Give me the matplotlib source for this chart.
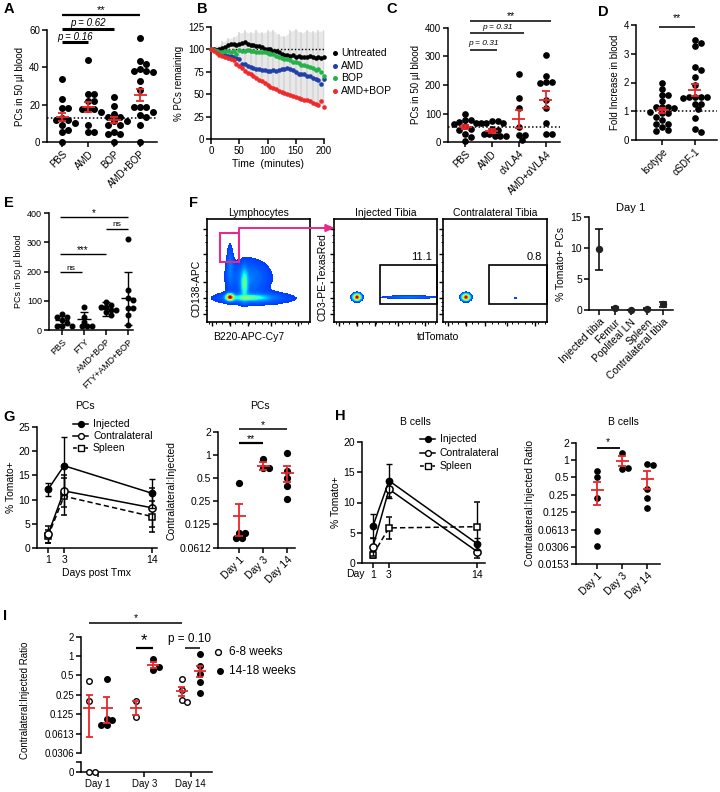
import numpy as np
import matplotlib
matplotlib.use('Agg')
import matplotlib.pyplot as plt
from matplotlib.lines import Line2D
from matplotlib.patches import Rectangle, Polygon
from matplotlib.transforms import Affine2D, blended_transform_factory
from matplotlib.colors import ListedColormap

plt.rcParams['font.family'] = ['Liberation Sans', 'DejaVu Sans']
plt.rcParams['font.size'] = 7
plt.rcParams['axes.linewidth'] = 1.1

# ---------------- DATA ----------------
# A
a_groups = ['PBS', 'AMD', 'BOP', 'AMD+BOP']
a_pbs = [34, 23, 18, 18, 13, 12, 12, 10, 9, 6.5, 5.5, 0]
a_amd = [44, 25.5, 25.5, 22, 22, 17.7, 17.7, 17.7, 15.9, 9.2, 5.3, 5.3]
a_bop = [24, 19.5, 15, 13.3, 13.3, 11.5, 11.5, 9.2, 9.2, 5.3, 4.4, 4.4, 0]
a_ambop = [55.8, 43.4, 42, 39, 38, 38, 37.5, 32.6, 28, 18.6, 18.6, 18.6, 16, 14.5, 13.3, 9.2, 0]
a_mean = [13.3, 18.6, 11.9, 25.1]
a_sem = [2.0, 2.6, 1.7, 3.4]
a_baseline = 13.1

# B
b_time = list(range(0, 201, 5))
b_untreated = [100, 100, 99, 101, 102, 103, 105, 106, 106, 105, 106, 107, 108, 106, 105, 105, 104, 104, 103, 101,
               100, 100, 98, 98, 97, 95, 94, 94, 93, 94, 92, 93, 92, 91, 92, 93, 91, 90, 91, 90, 91]
b_amd = [100, 99, 98, 96, 95, 94, 93, 93, 91, 90, 89, 84, 84, 82, 80, 79, 78, 78, 77, 77,
         76, 76, 77, 76, 77, 78, 78, 79, 78, 77, 75, 73, 72, 72, 70, 70, 68, 67, 66, 61, 67]
b_bop = [100, 99, 98, 97, 97, 98, 98, 97, 98, 95, 99, 98, 98, 99, 98, 98, 97, 97, 97, 97,
         96, 95, 95, 93, 91, 90, 89, 89, 88, 86, 86, 85, 83, 83, 81, 80, 79, 77, 78, 75, 70]
b_ambop = [100, 98, 96, 94, 93, 92, 90, 89, 88, 84, 81, 79, 76, 74, 72, 70, 68, 66, 65, 62,
           60, 58, 57, 56, 54, 53, 51, 50, 49, 48, 47, 46, 45, 44, 43, 42, 40, 39, 38, 42, 36]
b_err_time = list(range(0, 201, 10))
b_err_hi = [100, 103, 108, 112, 113, 118, 120, 118, 120, 118, 120, 121, 116, 114, 120, 122, 118, 121, 119, 120, 121]
b_err_lo = [100, 95, 91, 88, 85, 80, 76, 72, 68, 65, 62, 59, 56, 53, 50, 48, 46, 44, 42, 40, 38]
b_labels = ['Untreated', 'AMD', 'BOP', 'AMD+BOP']

# C
c_groups = ['PBS', 'AMD', 'αVLA4', 'AMD+αVLA4']
c_pbs = [100, 76, 76, 70, 65, 62, 55, 47, 41, 29, 18, 3.5]
c_amd = [74, 74, 67, 67, 67, 47, 41, 29, 29, 20, 20, 20]
c_vla = [239, 153, 121, 53, 23.5, 23.5, 8]
c_amdvla = [306, 232, 212, 212, 206, 147, 118, 67, 29, 29]
c_mean = [53, 39, 82, 149]
c_sem = [6, 7, 32, 30]
c_baseline = 52

# D
d_groups = ['Isotype', 'αSDF-1']
d_iso = [1.97, 1.76, 1.57, 1.57, 1.37, 1.14, 1.14, 1.14, 1.1, 0.99, 0.93, 0.93, 0.79, 0.7, 0.56, 0.56, 0.46, 0.35, 0.33]
d_sdf = [3.48, 3.39, 3.27, 2.55, 2.43, 2.2, 1.9, 1.51, 1.51, 1.51, 1.51, 1.45, 1.25, 1.25, 1.07, 0.75, 0.4, 0.27]
d_mean = [1.04, 1.74]
d_sem = [0.09, 0.22]

# E
e_groups = ['PBS', 'FTY', 'AMD+BOP', 'FTY+AMD+BOP']
e_pbs = [55, 46, 46, 34, 25, 14, 14, 14]
e_fty = [80, 46, 29, 14, 14, 14]
e_ambop = [97, 86, 80, 80, 69, 69, 60, 51]
e_ftyambop = [311, 137, 109, 103, 74, 74, 51, 17]
e_mean = [34, 37, 72, 108]
e_sd = [15, 26, 23, 90]

# F flow gates (cluster centre x, y, spread x, y, weight) in axes fractions
f_lym_blobs = [(0.22, 0.24, 0.022, 0.018, 1.0), (0.40, 0.235, 0.10, 0.016, 0.28), (0.36, 0.37, 0.02, 0.08, 0.26),
               (0.40, 0.43, 0.13, 0.11, 0.05), (0.45, 0.23, 0.23, 0.04, 0.05), (0.22, 0.55, 0.022, 0.13, 0.04)]
f_inj_blobs = [(0.22, 0.24, 0.022, 0.018, 1.0), (0.72, 0.24, 0.16, 0.01, 0.05)]
f_con_blobs = [(0.22, 0.24, 0.022, 0.018, 1.0), (0.70, 0.23, 0.015, 0.008, 0.02)]
f_inj_pct = '11.1'
f_con_pct = '0.8'
f_tissues = ['Injected tibia', 'Femur', 'Popliteal LN', 'Spleen', 'Contralateral tibia']
f_mean = [9.8, 0.4, 0.0, 0.2, 0.9]
f_err = [3.3, 0.15, 0.05, 0.1, 0.35]

# G
g_days = [1, 3, 14]
g_inj = [12.1, 17.0, 11.3]
g_inj_err = [1.3, 6.0, 3.0]
g_con = [2.8, 11.8, 8.3]
g_con_err = [1.7, 3.3, 4.0]
g_spl = [2.4, 10.7, 6.5]
g_spl_err = [1.4, 3.8, 3.2]
g_ratio_days = ['Day 1', 'Day 3', 'Day 14']
g_ratio = [[0.43, 0.096, 0.096, 0.083, 0.083], [0.9, 0.67, 0.67], [1.07, 0.62, 0.5, 0.4, 0.27]]
g_ratio_mean = [0.158, 0.72, 0.59]
g_ratio_lo = [0.088, 0.64, 0.45]
g_ratio_hi = [0.228, 0.82, 0.73]

# H
h_inj = [6.1, 13.6, 3.2]
h_inj_err = [2.0, 2.8, 1.0]
h_con = [2.7, 12.2, 1.9]
h_con_err = [1.5, 1.3, 1.0]
h_spl = [1.4, 5.8, 6.0]
h_spl_err = [0.6, 1.8, 4.1]
h_ratio = [[0.66, 0.51, 0.22, 0.057, 0.031], [1.34, 0.7, 0.72], [0.87, 0.84, 0.31, 0.22, 0.146]]
h_ratio_mean = [0.30, 0.98, 0.47]
h_ratio_lo = [0.166, 0.80, 0.31]
h_ratio_hi = [0.41, 1.17, 0.64]

# I
i_open = [[0.41, 0.2, 0, 0], [0.2, 0.113], [0.44, 0.3, 0.21, 0.19]]
i_filled = [[0.435, 0.105, 0.1, 0.085, 0.085], [0.9, 0.62, 0.68], [1.07, 0.71, 0.53, 0.4, 0.27]]
i_open_mean = [0.155, 0.153, 0.285]
i_open_lo = [0.055, 0.12, 0.235]
i_open_hi = [0.25, 0.2, 0.335]
i_fill_mean = [0.157, 0.73, 0.59]
i_fill_lo = [0.09, 0.65, 0.47]
i_fill_hi = [0.23, 0.82, 0.71]
i_legend = ['6-8 weeks', '14-18 weeks']

log_ticks_g = [2, 1, 0.5, 0.25, 0.125, 0.0612]
log_ticks_h = [2, 1, 0.5, 0.25, 0.125, 0.0613, 0.0306, 0.0153]
log_ticks_i = [2, 1, 0.5, 0.25, 0.125, 0.0613, 0.0306]

# ---------------- FIGURE ----------------
W, H = 720, 792
fig = plt.figure(figsize=(W / 100, H / 100), dpi=100)
PX = Affine2D().scale(1.0 / W, -1.0 / H).translate(0, 1) + fig.transFigure
RED = '#e8262b'


def add_ax(l, t, r, b):
    return fig.add_axes([l / W, 1 - b / H, (r - l) / W, (b - t) / H])


def ftext(x, y, s, **kw):
    kw.setdefault('transform', PX)
    return fig.text(x, y, s, **kw)


def prism(ax, fs=7):
    ax.spines['top'].set_visible(False)
    ax.spines['right'].set_visible(False)
    for s in ['left', 'bottom']:
        ax.spines[s].set_linewidth(1.1)
    ax.tick_params(axis='both', direction='out', length=3.5, width=1.1, labelsize=fs, pad=1.5)
    ax.set_facecolor('none')


def ppu_x(ax):
    yref = ax.get_ylim()[1]
    return ax.transData.transform((1, yref))[0] - ax.transData.transform((0, yref))[0]


def swarm(ax, xc, vals, d_px):
    ppu = ppu_x(ax)
    placed, xs = [], []
    for v in vals:
        py = ax.transData.transform((xc, v))[1]
        ox = 0
        for k in [0, 0.5, -0.5, 1, -1, 1.5, -1.5, 2, -2, 2.5, -2.5, 3, -3, 3.5, -3.5]:
            ox = k * d_px
            if all((ox - px) ** 2 + (py - qy) ** 2 >= (0.92 * d_px) ** 2 for px, qy in placed):
                break
        placed.append((ox, py))
        xs.append(xc + ox / ppu)
    return xs


def dots(ax, xc, vals, d_px, ms, mfc='k'):
    xs = swarm(ax, xc, vals, d_px)
    ax.plot(xs, vals, 'o', ms=ms, mfc=mfc, mec='k', mew=1.0, ls='none', clip_on=False, zorder=3)


def mean_bars(ax, xs, means, lo, hi, wm_px, wc_px, color=RED, lw=1.3):
    ppu = ppu_x(ax)
    for x, m, l, h in zip(xs, means, lo, hi):
        hm = wm_px / 2 / ppu
        hc = wc_px / 2 / ppu
        kw = dict(color=color, lw=lw, zorder=5, solid_capstyle='butt', clip_on=False)
        ax.plot([x - hm, x + hm], [m, m], **kw)
        ax.plot([x, x], [l, h], **kw)
        ax.plot([x - hc, x + hc], [l, l], **kw)
        ax.plot([x - hc, x + hc], [h, h], **kw)


def sig(ax, x1, x2, ypx, text=None, typx=None, lw=1.1, fs=7, **tkw):
    tr = blended_transform_factory(ax.transData, PX)
    ax.plot([x1, x2], [ypx, ypx], transform=tr, color='k', lw=lw, clip_on=False, solid_capstyle='butt')
    if text:
        ax.text((x1 + x2) / 2, typx, text, transform=tr, ha='center', va='center', fontsize=fs, **tkw)


def cat_labels(ax, labels, fs=7):
    ax.set_xticks(range(len(labels)))
    ax.set_xticklabels(labels, rotation=45, ha='right', rotation_mode='anchor', fontsize=fs)


def panel_label(x, y, s):
    ftext(x, y, s, fontsize=10.5, fontweight='bold', va='top', ha='left')


# ---------- A ----------
axA = add_ax(47, 30, 157, 142)
prism(axA)
axA.set_xlim(-0.58, 3.65)
axA.set_ylim(0, 60)
axA.set_yticks([0, 20, 40, 60])
cat_labels(axA, a_groups)
axA.set_ylabel('PCs in 50 µl blood', labelpad=3)
axA.axhline(a_baseline, ls=(0, (1, 1.5)), color='k', lw=1.1, zorder=1)
for i, vals in enumerate([a_pbs, a_amd, a_bop, a_ambop]):
    dots(axA, i, vals, 6.3, 4.0)
mean_bars(axA, range(4), a_mean, [m - s for m, s in zip(a_mean, a_sem)],
          [m + s for m, s in zip(a_mean, a_sem)], 13, 8)
sig(axA, 0, 3, 15, '**', 10.5, lw=1.6, fs=8)
sig(axA, 0, 2, 29, 'p = 0.62', 22.5, lw=2.2, style='italic')
sig(axA, 0, 1, 42, 'p = 0.16', 36.5, lw=2.2, style='italic')
panel_label(4, 2, 'A')

# ---------- B ----------
axB = add_ax(211, 27, 324, 139)
prism(axB)
axB.set_xlim(0, 200)
axB.set_ylim(0, 125)
axB.set_xticks([0, 50, 100, 150, 200])
axB.set_yticks([0, 25, 50, 75, 100, 125])
axB.fill_between(b_err_time, b_err_lo, b_err_hi, color='#e8e8e8', lw=0, zorder=0)
for t, lo, hi in zip(b_err_time, b_err_lo, b_err_hi):
    axB.plot([t, t], [lo, hi], color='#d6d6d6', lw=1.2, zorder=0)
axB.plot([0, 200], [100, 100], ls=(0, (1, 1.5)), color='k', lw=1.0, zorder=1)
b_colors = ['#000000', '#2040a8', '#24b34b', '#ee2a2a']
for ser, col in zip([b_untreated, b_amd, b_bop, b_ambop], b_colors):
    axB.plot(b_time, ser, 'o', ms=3.3, color=col, mec='none', clip_on=False, zorder=3)
axB.set_ylabel('% PCs remaining', labelpad=3)
axB.set_xlabel('Time  (minutes)', labelpad=2, fontsize=7.5)
for k, (lab, col) in enumerate(zip(b_labels, b_colors)):
    yy = 53 + k * 12.6
    fig.add_artist(Line2D([335], [yy], marker='o', ms=3.6, color=col, mec='none', transform=PX))
    ftext(341, yy, lab, va='center', ha='left', fontsize=7.5)
panel_label(197, 2, 'B')

# ---------- C ----------
axC = add_ax(448, 28, 560, 142)
prism(axC)
axC.set_xlim(-0.63, 3.52)
axC.set_ylim(0, 400)
axC.set_yticks([0, 100, 200, 300, 400])
cat_labels(axC, c_groups)
axC.set_ylabel('PCs in 50 µl blood', labelpad=3)
axC.axhline(c_baseline, ls=(0, (1, 1.5)), color='k', lw=1.1, zorder=1)
for i, vals in enumerate([c_pbs, c_amd, c_vla, c_amdvla]):
    dots(axC, i, vals, 5.6, 3.8)
mean_bars(axC, range(4), c_mean, [m - s for m, s in zip(c_mean, c_sem)],
          [m + s for m, s in zip(c_mean, c_sem)], 13, 8)
sig(axC, 0.2, 3.2, 21, '**', 16.5, lw=1.1, fs=7.5)
sig(axC, 0.2, 2.2, 33, 'p = 0.31', 27.5, lw=1.1, fs=6, style='italic')
sig(axC, 0.2, 1.2, 50, 'p = 0.31', 43.5, lw=1.1, fs=6, style='italic')
panel_label(386, 2, 'C')

# ---------- D ----------
axD = add_ax(636, 25, 717, 140)
prism(axD)
axD.set_xlim(-0.79, 1.67)
axD.set_ylim(0, 4)
axD.set_yticks([0, 1, 2, 3, 4])
cat_labels(axD, d_groups)
axD.set_ylabel('Fold Increase in blood', labelpad=3)
axD.axhline(1, ls=(0, (1, 1.5)), color='k', lw=1.1, zorder=1)
for i, vals in enumerate([d_iso, d_sdf]):
    dots(axD, i, vals, 5.8, 3.8)
mean_bars(axD, range(2), d_mean, [m - s for m, s in zip(d_mean, d_sem)],
          [m + s for m, s in zip(d_mean, d_sem)], 13, 8)
sig(axD, -0.1, 1.0, 27, '**', 18.5, lw=1.1, fs=7.5)
panel_label(598, 5, 'D')

# ---------- E ----------
axE = add_ax(49, 213, 133, 330)
prism(axE, fs=6.5)
axE.set_xlim(-0.6, 3.23)
axE.set_ylim(0, 400)
axE.set_yticks([0, 100, 200, 300, 400])
cat_labels(axE, e_groups, fs=6.5)
axE.set_ylabel('PCs in 50 µl blood', labelpad=3, fontsize=6.5)
for i, vals in enumerate([e_pbs, e_fty, e_ambop, e_ftyambop]):
    dots(axE, i, vals, 5.0, 3.3)
mean_bars(axE, range(4), e_mean, [m - s for m, s in zip(e_mean, e_sd)],
          [m + s for m, s in zip(e_mean, e_sd)], 14, 8, color='k', lw=1.0)
sig(axE, -0.1, 3.0, 217, '*', 213, lw=1.0, fs=7)
sig(axE, 2.0, 3.0, 229, 'ns', 225, lw=1.0, fs=6)
sig(axE, -0.1, 2.0, 254, '***', 250, lw=1.0, fs=7)
sig(axE, -0.1, 0.9, 272, 'ns', 268, lw=1.0, fs=6)
panel_label(4, 196, 'E')

# ---------- F flow ----------
jet = plt.get_cmap('jet')
flow_cmap = ListedColormap(jet(np.linspace(0.16, 0.97, 256)))
gx, gy = np.meshgrid(np.linspace(0, 1, 260), np.linspace(0, 1, 260))


def flow(l, t, r, b, blobs, title, gate=None, pct=None):
    ax = add_ax(l, t, r, b)
    dens = np.zeros_like(gx)
    for cx, cy, sx, sy, w in blobs:
        dens += w * np.exp(-((gx - cx) ** 2 / (2 * sx ** 2) + (gy - cy) ** 2 / (2 * sy ** 2)))
    c = np.clip(dens, 0, 1) ** 0.75
    img = np.ma.masked_where(dens < 0.01, c)
    ax.imshow(img, origin='lower', extent=(0, 1, 0, 1), cmap=flow_cmap, vmin=0.0, vmax=1,
              aspect='auto', interpolation='nearest')
    ax.set_xlim(0, 1)
    ax.set_ylim(0, 1)
    for s in ax.spines.values():
        s.set_linewidth(1.2)
    ax.set_xticks([0.05, 0.22, 0.40, 0.62, 0.88])
    ax.set_yticks([0.08, 0.23, 0.39, 0.66, 0.9])
    ax.set_xticks(list(np.linspace(0.02, 0.98, 16)), minor=True)
    ax.set_yticks([0.12, 0.16, 0.19, 0.3, 0.5, 0.58, 0.78, 0.84], minor=True)
    ax.tick_params(which='major', direction='out', length=3, width=1.0, labelbottom=False, labelleft=False)
    ax.tick_params(which='minor', direction='out', length=1.5, width=0.7)
    ax.set_title(title, fontsize=7.5, pad=2)
    if gate is not None:
        ax.add_patch(Rectangle((gate[0], gate[1]), gate[2] - gate[0], gate[3] - gate[1], fill=False,
                               ec='k', lw=1.2, clip_on=False))
        ax.text(0.95, gate[3] + 0.03, pct, ha='right', va='bottom', fontsize=8)
    return ax


axF1 = flow(207, 219, 310, 322, f_lym_blobs, 'Lymphocytes')
axF1.add_patch(Rectangle((0.126, 0.58), 0.184, 0.28, fill=False, ec='#e8288a', lw=1.5))
axF2 = flow(334, 219, 437, 322, f_inj_blobs, 'Injected Tibia', gate=(0.45, 0.17, 1.0, 0.55), pct=f_inj_pct)
axF3 = flow(443, 219, 547, 322, f_con_blobs, 'Contralateral Tibia', gate=(0.44, 0.17, 1.0, 0.55), pct=f_con_pct)
fig.add_artist(Line2D([239, 239, 326], [233, 228, 228], color='#e8288a', lw=1.4, transform=PX))
fig.add_artist(Polygon([[325, 224.5], [333, 228], [325, 231.5]], closed=True, color='#e8288a', transform=PX))
ftext(197, 288, 'CD138-APC', rotation=90, ha='center', va='center', fontsize=7.5)
ftext(213, 337, 'B220-APC-Cy7', ha='left', va='center', fontsize=7.5)
ftext(323, 277, 'CD3-PE-TexasRed', rotation=90, ha='center', va='center', fontsize=7.5)
ftext(438, 337, 'tdTomato', ha='center', va='center', fontsize=7.5)
panel_label(189, 196, 'F')

axF = add_ax(589, 217, 673, 310)
prism(axF, fs=7.5)
axF.set_xlim(-0.625, 4.625)
axF.set_ylim(0, 15)
axF.set_yticks([0, 5, 10, 15])
cat_labels(axF, f_tissues, fs=7.5)
axF.errorbar(range(5), f_mean, yerr=f_err, fmt='o', ms=4.3, color='#222222', ecolor='k',
             elinewidth=1.1, capsize=3, capthick=1.1, clip_on=False, zorder=3)
axF.set_ylabel('% Tomato+ PCs', labelpad=3, fontsize=7.5)
axF.set_title('Day 1', fontsize=8, pad=4)


# ---------- G/H line plots ----------
def line_panel(ax, days, inj, inj_e, con, con_e, spl, spl_e):
    kw = dict(color='k', elinewidth=1.0, capsize=2.5, capthick=1.0, clip_on=False)
    ax.errorbar(days, spl, yerr=spl_e, fmt='s', ls=(0, (3.5, 2)), lw=1.1, ms=5, mfc='white', mec='k',
                mew=1.1, zorder=3, **kw)
    ax.errorbar(days, con, yerr=con_e, fmt='o', ls='-', lw=1.1, ms=5.2, mfc='white', mec='k',
                mew=1.1, zorder=4, **kw)
    ax.errorbar(days, inj, yerr=inj_e, fmt='o', ls='-', lw=1.1, ms=4.6, mfc='k', mec='k',
                zorder=5, **kw)


def line_legend(x0, ys, fs=7.5):
    specs = [('Injected', '-', 'o', 'k'), ('Contralateral', '-', 'o', 'white'), ('Spleen', (0, (2.5, 1.5)), 's', 'white')]
    for (lab, ls, mk, fc), yy in zip(specs, ys):
        fig.add_artist(Line2D([x0, x0 + 15], [yy, yy], ls=ls, color='k', lw=1.1, transform=PX))
        fig.add_artist(Line2D([x0 + 7.5], [yy], marker=mk, ms=4.2, mfc=fc, mec='k', mew=1.0, transform=PX))
        ftext(x0 + 20, yy, lab, va='center', ha='left', fontsize=fs)


axG1 = add_ax(37, 427, 157, 548)
prism(axG1, fs=7.5)
axG1.set_xlim(-0.375, 14.6)
axG1.set_ylim(0, 25)
axG1.set_yticks([0, 5, 10, 15, 20, 25])
axG1.set_xticks(g_days)
line_panel(axG1, g_days, g_inj, g_inj_err, g_con, g_con_err, g_spl, g_spl_err)
axG1.set_ylabel('% Tomato+', labelpad=2, fontsize=7.5)
axG1.set_xlabel('Days post Tmx', labelpad=2, fontsize=7.5)
line_legend(73, [424, 436, 448])
ftext(85, 406, 'PCs', ha='center', va='center', fontsize=7.5)
panel_label(3, 410, 'G')


def log_axes(ax, ticks, fs=7.5):
    ax.set_yscale('log', base=2)
    ax.set_ylim(ticks[-1], ticks[0])
    ax.set_yticks(ticks)
    ax.set_yticklabels([('%g' % t) for t in ticks], fontsize=fs)
    ax.yaxis.set_minor_locator(matplotlib.ticker.NullLocator())


axG2 = add_ax(218, 432, 295, 548)
prism(axG2, fs=7.5)
log_axes(axG2, log_ticks_g)
axG2.set_xlim(-0.875, 2.33)
cat_labels(axG2, g_ratio_days, fs=7.5)
for i, vals in enumerate(g_ratio):
    dots(axG2, i, vals, 6.0, 4.2)
mean_bars(axG2, range(3), g_ratio_mean, g_ratio_lo, g_ratio_hi, 13, 8)
axG2.set_ylabel('Contralateral:Injected', labelpad=2, fontsize=7.5)
sig(axG2, 0, 1, 443, '**', 439.5, lw=1.6, fs=7.5)
sig(axG2, 0, 2, 429, '*', 425.5, lw=1.1, fs=7.5)
ftext(260, 406, 'PCs', ha='center', va='center', fontsize=7.5)

axH1 = add_ax(362, 442, 485, 563)
prism(axH1, fs=7.5)
axH1.set_xlim(-0.375, 15)
axH1.set_ylim(0, 20)
axH1.set_yticks([0, 5, 10, 15, 20])
axH1.set_xticks(g_days)
line_panel(axH1, g_days, h_inj, h_inj_err, h_con, h_con_err, h_spl, h_spl_err)
axH1.set_ylabel('% Tomato+', labelpad=2, fontsize=7.5)
ftext(355, 574, 'Day', ha='center', va='center', fontsize=7.5)
line_legend(420, [439, 453, 466])
ftext(415, 422, 'B cells', ha='center', va='center', fontsize=7.5)
panel_label(335, 409, 'H')

axH2 = add_ax(576, 443, 660, 564)
prism(axH2, fs=7.5)
log_axes(axH2, log_ticks_h)
axH2.set_xlim(-0.84, 2.52)
cat_labels(axH2, g_ratio_days, fs=7.5)
for i, vals in enumerate(h_ratio):
    dots(axH2, i, vals, 5.5, 3.8)
mean_bars(axH2, range(3), h_ratio_mean, h_ratio_lo, h_ratio_hi, 13, 8)
axH2.set_ylabel('Contralateral:Injected Ratio', labelpad=2, fontsize=7.5)
sig(axH2, 0, 0.9, 448, '*', 442.5, lw=1.3, fs=7.5)
ftext(623, 422, 'B cells', ha='center', va='center', fontsize=7.5)

# ---------- I ----------
axI = add_ax(81, 637, 212, 753)
axI0 = add_ax(81, 762, 212, 772)
prism(axI, fs=7)
prism(axI0, fs=7)
log_axes(axI, log_ticks_i, fs=7)
axI.spines['bottom'].set_visible(False)
axI.set_xticks([])
for a in (axI, axI0):
    a.set_xlim(-0.37, 2.46)
axI0.set_ylim(0, 1)
axI0.set_yticks([0, 1])
axI0.set_yticklabels(['0', ''])
axI0.set_xticks(range(3))
axI0.set_xticklabels(g_ratio_days, fontsize=7)
off = 0.19
for i in range(3):
    pos = [v for v in i_open[i] if v > 0]
    zer = [v for v in i_open[i] if v <= 0]
    dots(axI, i - off, pos, 5.5, 4.0, mfc='white')
    if zer:
        dots(axI0, i - off, zer, 5.5, 4.0, mfc='white')
    dots(axI, i + off, i_filled[i], 5.5, 4.0)
mean_bars(axI, [i - off for i in range(3)], i_open_mean, i_open_lo, i_open_hi, 12, 7)
mean_bars(axI, [i + off for i in range(3)], i_fill_mean, i_fill_lo, i_fill_hi, 12, 7)
ftext(25, 700, 'Contralateral:Injected Ratio', rotation=90, ha='center', va='center', fontsize=7)
sig(axI, -off, 2 - off, 623, '*', 618, lw=1.1, fs=7.5)
sig(axI, 1 - off, 1 + off, 648, '*', 641, lw=1.6, fs=12)
sig(axI, 2 - off + 0.06, 2 + off, 648, None)
ftext(189, 639, 'p = 0.10', ha='center', va='center', fontsize=8.5)
fig.add_artist(Line2D([218], [652], marker='o', ms=4.2, mfc='white', mec='k', mew=1.0, transform=PX))
ftext(229, 652, i_legend[0], ha='left', va='center', fontsize=8.5)
fig.add_artist(Line2D([220], [671], marker='o', ms=4.0, mfc='k', mec='k', transform=PX))
ftext(229, 671, i_legend[1], ha='left', va='center', fontsize=8.5)
panel_label(3, 609, 'I')

fig.savefig('out.png', dpi=100)
